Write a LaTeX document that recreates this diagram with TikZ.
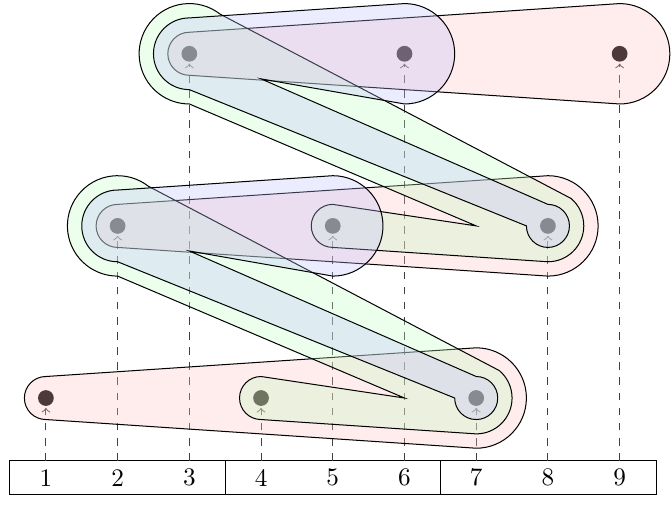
\documentclass[tikz,border=0pt]{standalone}
\usetikzlibrary{calc}
\tikzset{
  dot/.style={circle,fill=black,inner sep=0pt,minimum size=2.2mm},
  cell/.style={minimum width=1cm,minimum height=4.6mm,inner sep=0pt},
  guide/.style={->,dashed,draw=black!75,shorten >=0.6pt},
  hull/.style={draw=black,fill opacity=0.3},
}
% window hulls: radii grow .3 -> .5 -> .7 along the window
\newcommand{\redhull}[2]{%
  \filldraw[hull,fill=red!25] ($(#1)+(0,.3)$) arc[start angle=90,end angle=270,radius=.3]
    -- ($(#2)+(0,-.7)$) arc[start angle=-90,end angle=90,radius=.7] -- cycle;}
\newcommand{\greenhull}[3]{%
  \filldraw[hull,fill=green!25] ($(#1)+(0,.3)$) arc[start angle=90,end angle=270,radius=.3]
    -- ($(#2)+(0,-.5)$) arc[start angle=-90,end angle=50,radius=.5]
    -- ($(#3)+(52:.7)$) arc[start angle=52,end angle=270,radius=.7]
    -- ($(#2)+(-1,0)$) -- cycle;}
\newcommand{\bluehull}[3]{%
  \filldraw[hull,fill=blue!25] ($(#1)+(0,.3)$) arc[start angle=90,end angle=-180,radius=.3]
    -- ($(#2)+(0,-.5)$) arc[start angle=270,end angle=90,radius=.5]
    -- ($(#3)+(0,.7)$) arc[start angle=90,end angle=-90,radius=.7]
    -- ($(#2)+(1,-.35)$) -- cycle;}

\begin{document}
\begin{tikzpicture}
\useasboundingbox (-0.64,-1.53) rectangle (8.73,5.55);
% memory cells
\foreach \i in {1,...,9}
  \node[cell] (c\i) at (\i-1,-1.11) {\i};
\draw (c1.north west) rectangle (c9.south east);
\draw (c3.north east) -- (c3.south east);
\draw (c6.north east) -- (c6.south east);
% elements, three per block
\foreach \i in {1,...,9} {
  \pgfmathsetmacro\py{2.4*mod(\i-1,3)}
  \node[dot] (p\i) at (\i-1,\py) {};
  \draw[guide] (c\i.north) -- (p\i);
}
% sliding windows
\redhull{p1}{p7}
\redhull{p2}{p8}
\redhull{p3}{p9}
\greenhull{p4}{p7}{p2}
\greenhull{p5}{p8}{p3}
\bluehull{p7}{p2}{p5}
\bluehull{p8}{p3}{p6}
\end{tikzpicture}
\end{document}
